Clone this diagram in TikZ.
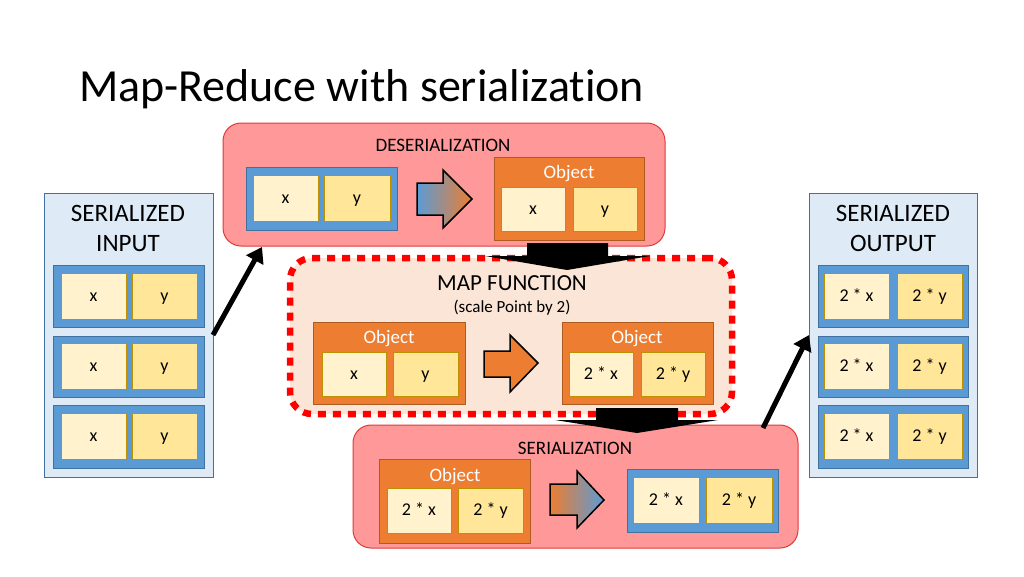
\documentclass[tikz,border=0pt]{standalone}
\usepackage{fontspec}
\setmainfont{Carlito}[Ligatures=NoCommon]
\usetikzlibrary{arrows.meta,calc}
\definecolor{pinkf}{RGB}{255,153,153}
\definecolor{pinkd}{RGB}{226,56,56}
\definecolor{bluef}{RGB}{91,155,213}
\definecolor{blued}{RGB}{65,113,156}
\definecolor{cellone}{RGB}{255,242,204}
\definecolor{celltwo}{RGB}{255,230,153}
\definecolor{celld}{RGB}{191,144,0}
\definecolor{orf}{RGB}{237,125,49}
\definecolor{ord}{RGB}{174,90,33}
\definecolor{mapf}{RGB}{251,229,214}
\definecolor{contf}{RGB}{222,235,247}
\newcommand\placebox[7]{\node[#1, minimum width={(#5)-(#3)}, minimum height={(#6)-(#4)}] (#2) at ({((#3)+(#5))/2},{((#4)+(#6))/2}) {#7};}
\begin{document}
\begin{tikzpicture}[x=1pt,y=-1pt,
  every node/.style={inner sep=0pt, outer sep=0pt},
  stage/.style={draw=pinkd, fill=pinkf, line width=1pt, rounded corners=18pt},
  mapstage/.style={draw=red, fill=mapf, line width=6.5pt, dash pattern=on 8pt off 7pt, rounded corners=22pt},
  container/.style={draw=blued, fill=contf, line width=1pt},
  record/.style={draw=blued, fill=bluef, line width=1pt},
  cellbase/.style={draw=celld, line width=0.8pt, font=\fontsize{18}{21}\selectfont, text height=12pt, text depth=2pt},
  cella/.style={cellbase, fill=cellone},
  cellb/.style={cellbase, fill=celltwo},
  object/.style={draw=ord, fill=orf, line width=1pt},
  objlbl/.style={text=white, font=\fontsize{19}{22}\selectfont},
  stagelbl/.style={font=\fontsize{19}{22}\selectfont},
  contlbl/.style={font=\fontsize{25}{30}\selectfont, align=center},
  flow/.style={line width=5pt, -{Triangle[length=15pt,width=19pt]}},
  blockarrow/.style={fill=black},
  convarrow/.style={draw=black, line width=1.5pt}
]
\useasboundingbox (0,0) rectangle (1024,576);

\node[anchor=base west, font=\fontsize{46}{54}\selectfont] (title) at (79,101) {Map-Reduce with serialization};

% Serialized input
\placebox{container}{inp}{44}{193}{213}{477}{}
\node[contlbl] (inplbl) at (128,228) {SERIALIZED\\INPUT};
\placebox{record}{ir1}{53}{265}{204}{327}{}
\placebox{cella}{ir1a}{61}{273}{126}{319}{x}
\placebox{cellb}{ir1b}{132}{273}{197}{319}{y}
\placebox{record}{ir2}{53}{336}{204}{397}{}
\placebox{cella}{ir2a}{61}{343}{126}{389}{x}
\placebox{cellb}{ir2b}{132}{343}{197}{389}{y}
\placebox{record}{ir3}{53}{405}{204}{468}{}
\placebox{cella}{ir3a}{61}{413}{126}{459}{x}
\placebox{cellb}{ir3b}{132}{413}{197}{459}{y}

% Serialized output
\placebox{container}{outp}{809}{193}{977}{477}{}
\node[contlbl] (outlbl) at (893,228) {SERIALIZED\\OUTPUT};
\placebox{record}{or1}{818}{265}{968}{327}{}
\placebox{cella}{or1a}{824}{273}{889}{319}{2 * x}
\placebox{cellb}{or1b}{897}{273}{962}{319}{2 * y}
\placebox{record}{or2}{818}{336}{968}{397}{}
\placebox{cella}{or2a}{824}{343}{889}{389}{2 * x}
\placebox{cellb}{or2b}{897}{343}{962}{389}{2 * y}
\placebox{record}{or3}{818}{405}{968}{468}{}
\placebox{cella}{or3a}{824}{413}{889}{459}{2 * x}
\placebox{cellb}{or3b}{897}{413}{962}{459}{2 * y}

% Deserialization
\placebox{stage}{deser}{223}{123}{665}{246}{}
\node[stagelbl] (deserlbl) at (443,145) {DESERIALIZATION};
\placebox{record}{drec}{246}{167}{397}{230}{}
\placebox{cella}{dra}{253}{175}{318}{221}{x}
\placebox{cellb}{drb}{324}{175}{390}{221}{y}
\shadedraw[left color=bluef, right color=orf, convarrow] (417,183) -- (443,183) -- (443,170) -- (472,199) -- (443,228) -- (443,215) -- (417,215) -- cycle;
\placebox{object}{dobj}{494}{157}{644}{240}{}
\node[objlbl] (dobjlbl) at (569,174) {Object};
\placebox{cella}{doa}{501}{187}{565}{231}{x}
\placebox{cellb}{dob}{573}{187}{637}{231}{y}

% Map function
\placebox{mapstage}{map}{290}{258}{732}{414}{}
\node[font=\fontsize{23}{27}\selectfont] (maplbl) at (512,283) {MAP FUNCTION};
\node[font=\fontsize{17}{20}\selectfont] (mapsub) at (512,308) {(scale Point by 2)};
\placebox{object}{mobja}{313}{322}{465}{404}{}
\node[objlbl] (mobjalbl) at (389,339) {Object};
\placebox{cella}{maa}{322}{352}{386}{396}{x}
\placebox{cellb}{mab}{393}{352}{458}{396}{y}
\draw[fill=orf, convarrow] (484,351) -- (510,351) -- (510,335) -- (538,363) -- (510,392) -- (510,377) -- (484,377) -- cycle;
\placebox{object}{mobjb}{562}{322}{713}{404}{}
\node[objlbl] (mobjblbl) at (637,339) {Object};
\placebox{cella}{mba}{569}{352}{633}{396}{2 * x}
\placebox{cellb}{mbb}{641}{352}{705}{396}{2 * y}

% Serialization
\placebox{stage}{ser}{353}{425}{798}{548}{}
\node[stagelbl] (serlbl) at (575,448) {SERIALIZATION};
\placebox{object}{sobj}{379}{459}{530}{543}{}
\node[objlbl] (sobjlbl) at (455,477) {Object};
\placebox{cella}{soa}{387}{488}{451}{533}{2 * x}
\placebox{cellb}{sob}{458}{488}{523}{533}{2 * y}
\shadedraw[left color=orf, right color=bluef, convarrow] (550,484) -- (577,484) -- (577,471) -- (604,500) -- (577,528) -- (577,515) -- (550,515) -- cycle;
\placebox{record}{srec}{627}{469}{778}{532}{}
\placebox{cella}{sra}{633}{477}{699}{523}{2 * x}
\placebox{cellb}{srb}{706}{477}{772}{523}{2 * y}

% block arrows between stages
\fill[blockarrow] (527,243) -- (608,243) -- (608,256) -- (650,256) -- (567,270) -- (485,256) -- (527,256) -- cycle;
\fill[blockarrow] (596,408) -- (678,408) -- (678,420) -- (718,420) -- (637,433) -- (555,420) -- (596,420) -- cycle;

% connectors
\coordinate (a1end) at (262,247);
\coordinate (a2start) at (763,428);
\draw[flow] (inp.east) -- (a1end);
\draw[flow] (a2start) -- (outp.west);
\end{tikzpicture}
\end{document}
